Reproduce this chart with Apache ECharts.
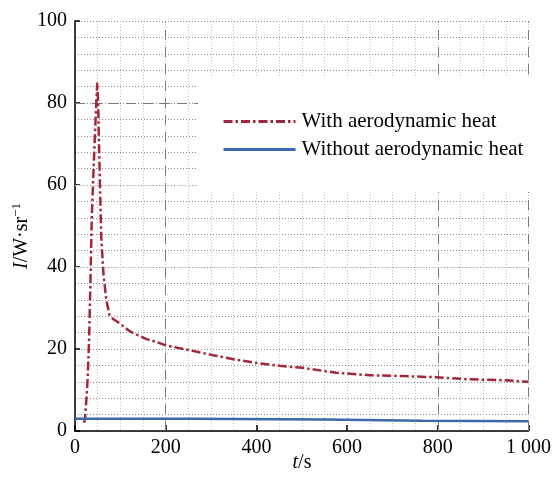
<!DOCTYPE html>
<html>
<head>
<meta charset="utf-8">
<script src="https://cdn.jsdelivr.net/npm/echarts@6/dist/echarts.min.js"></script>
<style>html,body{margin:0;padding:0;background:#fff}#c{width:554px;height:480px}</style>
</head>
<body>
<div id="c"></div>
<script>
// ---- data ----
const seriesNames = ['With aerodynamic heat', 'Without aerodynamic heat'];
const xTickValues = [0, 200, 400, 600, 800, 1000];
const xTickLabels = ['0', '200', '400', '600', '800', '1 000'];
const yTickValues = [0, 20, 40, 60, 80, 100];

const withT = [20, 22, 25, 28, 31, 34, 37, 41, 45, 49, 51, 53, 55, 58, 63, 69, 76, 84, 98, 115, 128, 158, 180, 200, 253, 304, 350, 400, 451, 502, 576, 650, 723, 797, 870, 943, 1000];
const withV = [2.0, 3.0, 7.5, 13, 22, 36, 52, 64, 75, 85, 80, 70, 60, 47, 38, 32, 28.3, 27.3, 26.3, 24.8, 23.9, 22.4, 21.7, 20.9, 19.7, 18.5, 17.5, 16.6, 15.9, 15.4, 14.2, 13.6, 13.4, 13.1, 12.6, 12.4, 12.0];

const withoutT = [0, 250, 250, 550, 550, 765, 765, 1000];
const withoutV = [3.0, 3.0, 2.8, 2.8, 2.5, 2.5, 2.4, 2.4];

const majorGridX = [200, 800, 1000];
const majorGridY = [80];
const faintGridY = [40, 60];

// ---- build ----
const FONT = '"Liberation Serif", "Times New Roman", serif';
const zip = (a, b) => a.map((v, i) => [v, b[i]]);

const chart = echarts.init(document.getElementById('c'), null, {renderer: 'canvas'});

const markLines = [
  ...majorGridX.map(v => ({xAxis: v})),
  ...majorGridY.map(v => ({yAxis: v})),
  ...faintGridY.map(v => ({yAxis: v, lineStyle: {color: '#d0d0d0', width: 1, type: [10, 7]}}))
];

chart.setOption({
  animation: false,
  backgroundColor: '#fff',
  grid: {left: 75, right: 25, top: 21, bottom: 49},
  xAxis: [
    {
      type: 'value', min: 0, max: 1000, interval: 200,
      axisLine: {show: true, lineStyle: {color: '#000', width: 1.5}},
      axisTick: {show: true, inside: true, length: 6, lineStyle: {color: '#000', width: 1.5}},
      axisLabel: {
        color: '#000', fontFamily: FONT, fontSize: 20, margin: 7,
        formatter: v => { const i = xTickValues.indexOf(v); return i >= 0 ? xTickLabels[i] : ''; }
      },
      splitLine: {show: false}
    },
    {
      type: 'value', min: 0, max: 1000, interval: 50, show: true, position: 'bottom',
      axisLine: {show: false}, axisTick: {show: false}, axisLabel: {show: false},
      splitLine: {show: true, lineStyle: {color: '#c4c4c4', width: 1, type: [1, 2]}}
    }
  ],
  yAxis: [
    {
      type: 'value', min: 0, max: 100, interval: 20,
      axisLine: {show: true, lineStyle: {color: '#000', width: 1.5}},
      axisTick: {show: true, inside: true, length: 5, lineStyle: {color: '#000', width: 1.5}},
      axisLabel: {color: '#000', fontFamily: FONT, fontSize: 20, margin: 8},
      splitLine: {show: false}
    },
    {
      type: 'value', min: 0, max: 100, interval: 4, show: true, position: 'left',
      axisLine: {show: false}, axisTick: {show: false}, axisLabel: {show: false},
      splitLine: {show: true, lineStyle: {color: '#8a8a8a', width: 1, type: [1, 2]}}
    }
  ],
  legend: {
    left: 198, top: 77,
    padding: [34, 6, 32, 24],
    backgroundColor: '#fff',
    orient: 'vertical',
    itemWidth: 72, itemHeight: 14, itemGap: 7,
    itemStyle: {opacity: 0},
    lineStyle: {width: 3},
    textStyle: {fontFamily: FONT, fontSize: 21, color: '#000', padding: [0, 0, 0, 1]},
    data: seriesNames
  },
  graphic: [
    {
      type: 'text', x: 22, y: 236, rotation: Math.PI / 2, z: 10,
      style: {
        text: '{i|I}/W·sr{s|−1}',
        align: 'center', verticalAlign: 'middle',
        font: '20px ' + FONT, fill: '#000',
        rich: {
          i: {fontFamily: FONT, fontSize: 20, fontStyle: 'italic'},
          s: {fontFamily: FONT, fontSize: 13, padding: [0, 0, 10, 0]}
        }
      }
    },
    {
      type: 'text', x: 302, y: 463, z: 10,
      style: {
        text: '{i|t}/s',
        align: 'center', verticalAlign: 'middle',
        font: '20px ' + FONT, fill: '#000',
        rich: {i: {fontFamily: FONT, fontSize: 20, fontStyle: 'italic'}}
      }
    }
  ],
  series: [
    {
      name: seriesNames[0], type: 'line', xAxisIndex: 0, yAxisIndex: 0,
      data: zip(withT, withV), showSymbol: false, symbol: 'none', z: 3,
      lineStyle: {color: '#a0283a', width: 2.5, type: [9, 3, 2.5, 3]},
      itemStyle: {color: '#a0283a'}
    },
    {
      name: seriesNames[1], type: 'line', xAxisIndex: 0, yAxisIndex: 0,
      data: zip(withoutT, withoutV), showSymbol: false, symbol: 'none', z: 3,
      lineStyle: {color: '#3a68a8', width: 2.5},
      itemStyle: {color: '#3a68a8'},
      markLine: {
        silent: true, symbol: 'none', label: {show: false}, z: 1,
        lineStyle: {color: '#7a7a7a', width: 1, type: [10, 7]},
        data: markLines
      }
    }
  ]
});
</script>
</body>
</html>
